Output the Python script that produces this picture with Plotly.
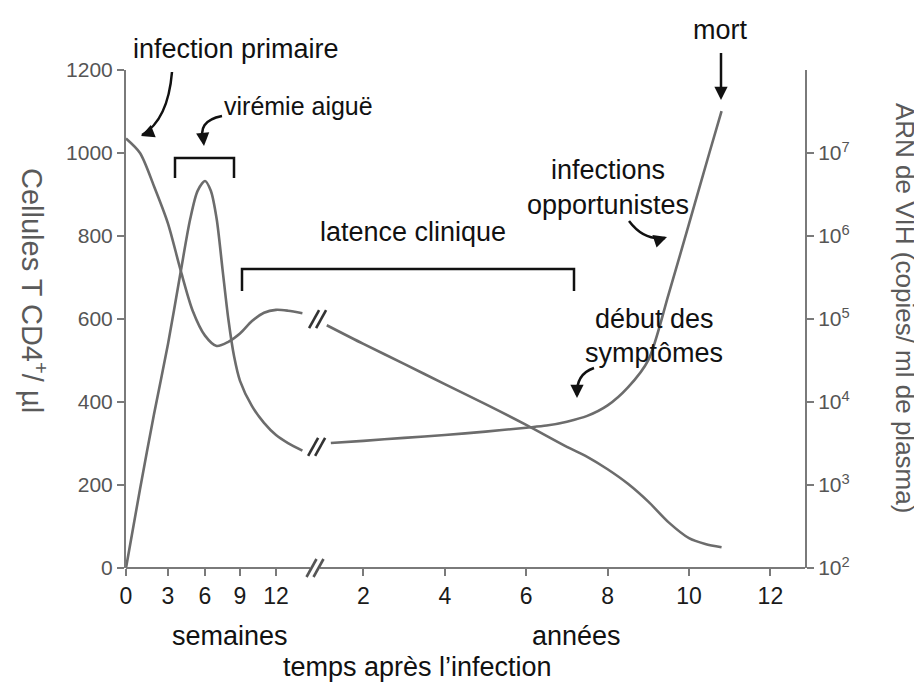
import numpy as np
import plotly.graph_objects as go

# ---------------- data ----------------
week_ticks = [0, 3, 6, 9, 12]
year_ticks = [2, 4, 6, 8, 10, 12]
y_left_ticks = [0, 200, 400, 600, 800, 1000, 1200]
y_right_ticks = [1e2, 1e3, 1e4, 1e5, 1e6, 1e7]
y_right_labels = ["10<sup>2</sup>", "10<sup>3</sup>", "10<sup>4</sup>",
                  "10<sup>5</sup>", "10<sup>6</sup>", "10<sup>7</sup>"]

# CD4 T cells / µl
cd4_weeks = [0, 1, 2, 3, 4, 5, 6, 7, 8, 9, 10, 11, 12, 13, 14.2]
cd4_weeks_vals = [1035, 1000, 920, 830, 720, 620, 560, 535, 545, 565, 595, 615, 622, 620, 614]
cd4_years = [1.1, 2, 3, 4, 5, 6, 7, 7.5, 8, 8.5, 9, 9.5, 10, 10.4, 10.8]
cd4_years_vals = [585, 540, 492, 443, 395, 345, 292, 268, 238, 203, 160, 110, 72, 58, 50]

# HIV RNA copies / ml plasma
vl_weeks = [0, 1, 2, 3, 4, 4.8, 5.4, 6, 6.5, 7, 7.5, 8, 8.5, 9, 10, 11, 12, 13, 14.2]
vl_weeks_vals = [1e2, 8.9e2, 7.1e3, 5.0e4, 3.5e5, 1.6e6, 3.5e6, 4.6e6, 3.5e6, 1.6e6,
                 4.0e5, 1.0e5, 3.5e4, 1.8e4, 8.9e3, 5.6e3, 4.0e3, 3.2e3, 2.6e3]
vl_years = [1.2, 2, 3, 4, 5, 6, 6.5, 7, 7.5, 8, 8.5, 9, 9.5, 10, 10.5, 10.8]
vl_years_vals = [3.2e3, 3.4e3, 3.7e3, 4.0e3, 4.4e3, 4.9e3, 5.2e3, 5.8e3, 6.8e3, 9.1e3,
                 1.5e4, 3.2e4, 2.0e5, 1.4e6, 1.0e7, 3.2e7]

# ---------------- layout helpers ----------------
W, H = 922, 684
PL, PR, PT, PB = 118, 797, 62, 560
WEEK_ANCH_X = [118, 160, 197, 232, 268]


def wpos(w):
    w = np.asarray(w, dtype=float)
    p = np.interp(w, week_ticks, WEEK_ANCH_X)
    return np.where(w > 12, 268 + (w - 12) * 12.0, p)


def ypos(y):
    return 274 + 40.7 * np.asarray(y, dtype=float)


def P(x, y):
    return (x - PL) / (PR - PL), (PB - y) / (PB - PT)


def left_px(v):
    return PB - v / 1200 * (PB - PT)


def right_px(v):
    return PB - (np.log10(v) - 2) / 6 * (PB - PT)


CURVE = "#6c6c6c"
AXC = "#7a7a7a"
TXT = "#111111"
FONT = "Liberation Sans, Arial, sans-serif"
TS = 27

fig = go.Figure()
line = dict(color=CURVE, width=2.6, shape="spline", smoothing=0.8)
fig.add_trace(go.Scatter(x=wpos(cd4_weeks), y=cd4_weeks_vals, mode="lines", line=line,
                         hoverinfo="skip", showlegend=False))
fig.add_trace(go.Scatter(x=ypos(cd4_years), y=cd4_years_vals, mode="lines", line=line,
                         hoverinfo="skip", showlegend=False))
fig.add_trace(go.Scatter(x=wpos(vl_weeks), y=vl_weeks_vals, mode="lines", line=line,
                         yaxis="y2", hoverinfo="skip", showlegend=False))
fig.add_trace(go.Scatter(x=ypos(vl_years), y=vl_years_vals, mode="lines", line=line,
                         yaxis="y2", hoverinfo="skip", showlegend=False))

shapes = []
annots = []


def seg(x0, y0, x1, y1, color="#111", width=2.5):
    a, b = P(x0, y0)
    c, d = P(x1, y1)
    shapes.append(dict(type="line", xref="paper", yref="paper", x0=a, y0=b, x1=c, y1=d,
                       line=dict(color=color, width=width)))


def path(pts, color="#111", width=2.5, curve=False):
    q = [P(x, y) for x, y in pts]
    if curve:
        s = "M{},{} Q{},{} {},{}".format(q[0][0], q[0][1], q[1][0], q[1][1], q[2][0], q[2][1])
    else:
        s = "M" + " L".join("{},{}".format(a, b) for a, b in q)
    shapes.append(dict(type="path", xref="paper", yref="paper", path=s,
                       line=dict(color=color, width=width)))


def text(x, y, s, size=TS, color=TXT, angle=0):
    a, b = P(x, y)
    annots.append(dict(x=a, y=b, xref="paper", yref="paper", text=s, showarrow=False,
                       textangle=angle, font=dict(size=size, color=color, family=FONT),
                       xanchor="center", yanchor="middle"))


def head(x, y, tx, ty):
    a, b = P(x, y)
    annots.append(dict(x=a, y=b, xref="paper", yref="paper", ax=tx - x, ay=ty - y,
                       axref="pixel", ayref="pixel", text="", showarrow=True,
                       arrowhead=2, arrowsize=1.1, arrowwidth=2.4, arrowcolor="#111"))


def slashes(cx, cy, color="#333"):
    for dx in (-3.5, 3.5):
        seg(cx + dx - 5, cy + 9, cx + dx + 5, cy - 9, color=color, width=2.6)


# x axis line with break
BRK = 307
seg(PL, PB, BRK - 5, PB, color=AXC, width=2)
seg(BRK + 5, PB, PR, PB, color=AXC, width=2)
slashes(BRK, PB, color="#555")

# curve breaks
cx = (float(wpos([cd4_weeks[-1]])[0]) + float(ypos([cd4_years[0]])[0])) / 2
slashes(cx + 3, (left_px(cd4_weeks_vals[-1]) + left_px(cd4_years_vals[0])) / 2)
cx2 = (float(wpos([vl_weeks[-1]])[0]) + float(ypos([vl_years[0]])[0])) / 2
slashes(cx2, (right_px(vl_weeks_vals[-1]) + right_px(vl_years_vals[0])) / 2)

# brackets
path([(167, 170), (167, 150), (226, 150), (226, 170)])
path([(234, 283), (234, 261), (566, 261), (566, 283)])

# curved arrows
path([(164, 64), (160, 112), (134, 127)], curve=True)
head(133, 128, 143, 124)
path([(214, 108), (188, 113), (196, 135)], curve=True)
head(196, 138, 195, 128)
path([(621, 213), (636, 233), (657, 230)], curve=True)
head(659, 229, 650, 232)
path([(586, 360), (568, 366), (569, 387)], curve=True)
head(569, 390, 569, 380)
seg(713, 45, 713, 80)
head(713, 92, 713, 80)

# texts
text(228, 41, "infection primaire")
text(290, 98, "virémie aiguë", size=25)
text(405, 224, "latence clinique")
text(600, 162, "infections")
text(600, 197, "opportunistes")
text(646, 311, "début des")
text(646, 345, "symptômes")
text(712, 22, "mort")
text(222, 628, "semaines")
text(568, 628, "années")
text(409, 659, "temps après l’infection")
text(26, 282, "Cellules T CD4<sup>+</sup>/ µl", size=29, color="#5a5a5a", angle=90)
text(897, 300, "ARN de VIH (copies/ ml de plasma)", size=26, color="#5a5a5a", angle=90)

xtv = list(wpos(week_ticks)) + list(ypos(year_ticks))
xtt = [str(v) for v in week_ticks] + [str(v) for v in year_ticks]

fig.update_layout(
    width=W, height=H,
    margin=dict(l=PL, r=W - PR, t=PT, b=H - PB),
    paper_bgcolor="white", plot_bgcolor="white",
    shapes=shapes, annotations=annots,
    font=dict(family=FONT),
    xaxis=dict(range=[PL, PR], tickvals=xtv, ticktext=xtt, ticks="outside", ticklen=7,
               tickwidth=2, tickcolor=AXC, showgrid=False, zeroline=False, showline=False,
               tickfont=dict(size=23, color="#1a1a1a")),
    yaxis=dict(range=[0, 1200], tickvals=y_left_ticks, ticks="outside", ticklen=7,
               tickwidth=2, tickcolor=AXC, showline=True, linecolor=AXC, linewidth=2,
               showgrid=False, zeroline=False, tickfont=dict(size=21, color="#555")),
    yaxis2=dict(type="log", range=[2, 8], overlaying="y", side="right",
                tickvals=y_right_ticks, ticktext=y_right_labels, ticks="outside", ticklen=7,
                tickwidth=2, tickcolor=AXC, showline=True, linecolor=AXC, linewidth=2,
                showgrid=False, zeroline=False, tickfont=dict(size=21, color="#555")),
)

fig.write_html("out.html")
